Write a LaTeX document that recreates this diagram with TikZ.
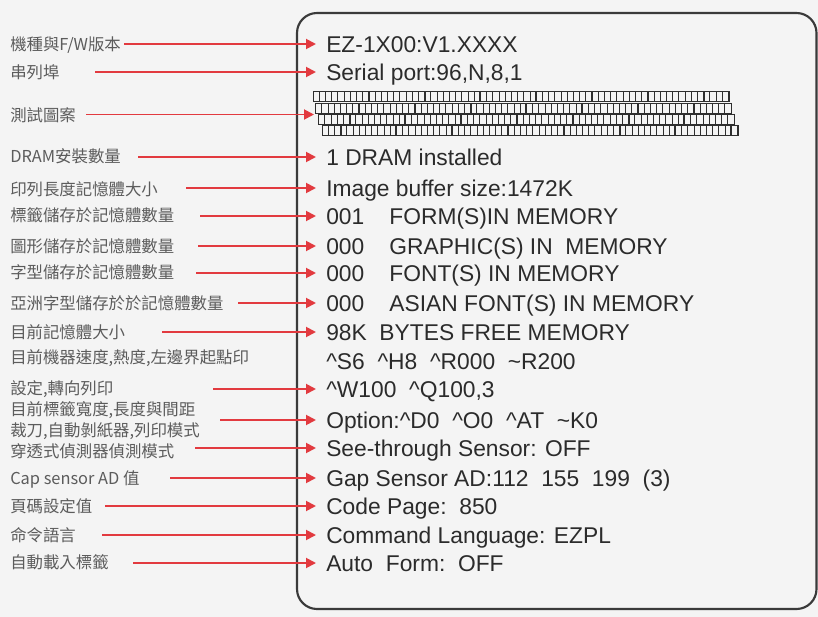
\documentclass[tikz,border=0pt]{standalone}
\usepackage{fontspec}
\setmainfont{Liberation Sans}
\newfontfamily\cjkfont{Noto Sans CJK TC}
\usetikzlibrary{arrows.meta}
\definecolor{Paper}{HTML}{F4F4F4}
\definecolor{Frame}{HTML}{3A3A3A}
\definecolor{Pointer}{HTML}{E23A3F}
\definecolor{Caption}{HTML}{5C5C5C}
\definecolor{Readout}{HTML}{2B2B2B}
\definecolor{Grid}{HTML}{2E2E2E}
\newcommand\crt{\textasciicircum}
\newcommand\tld{\textasciitilde}
\tikzset{
  >={Triangle[length=7.5pt,width=7.5pt]},
  lab/.style={anchor=west,inner sep=0pt,text=Caption,font=\cjkfont\fontsize{12.3}{14}\selectfont,text height=10.8pt,text depth=1.5pt},
  val/.style={anchor=west,inner xsep=7.5pt,inner ysep=0pt,text=Readout,font=\fontsize{17.1}{20}\selectfont,text height=12.2pt,text depth=0pt},
  ptr/.style={->,line width=1.4pt,draw=Pointer},
  panel/.style={draw=Frame,line width=1.6pt,rounded corners=15pt},
  cell/.style={draw=Grid,line width=0.6pt},
  cellbar/.style={draw=Grid,line width=1.5pt}
}

\begin{document}
\begin{tikzpicture}[x=0.75pt,y=-0.75pt]
  \fill[Paper] (0,0) rectangle (818,617);
  \useasboundingbox (0,0) rectangle (818,617);
  \draw[panel] (297,13) rectangle (816.5,609);

  \foreach \r/\xo/\yo in {0/313/91.5,1/315.5/103,2/318.5/114,3/322/125}{
    \draw[cell] (\xo,\yo) rectangle ++(416,10);
    \foreach \i in {1,...,67}{
      \pgfmathtruncatemacro\k{mod(\i*7+\r*5,9)}
      \ifnum\k=0 \draw[cellbar] (\xo+\i*6.2,\yo) -- ++(0,10);
      \else \draw[cell] (\xo+\i*6.2,\yo) -- ++(0,10); \fi
    }
  }

  \node[lab] (l1) at (10,44) {機種與F/W版本};       \node[val] (v1) at (316,44) {EZ-1X00:V1.XXXX};
  \node[lab] (l2) at (10,72) {串列埠};             \node[val] (v2) at (316,72) {Serial port:96,N,8,1};
  \node[lab] (l3) at (10,115) {測試圖案};           \coordinate (pat) at (314,114.5);
  \node[lab] (l4) at (10,156) {DRAM安裝數量};       \node[val] (v4) at (316,157) {1 DRAM installed};
  \node[lab] (l5) at (10,189) {印列長度記憶體大小};   \node[val] (v5) at (316,188) {Image buffer size:1472K};
  \node[lab] (l6) at (10,215) {標籤儲存於記憶體數量}; \node[val] (v6) at (316,216) {001\hspace{1.1em}FORM(S)IN MEMORY};
  \node[lab] (l7) at (10,246) {圖形儲存於記憶體數量}; \node[val] (v7) at (316,246) {000\hspace{1.1em}GRAPHIC(S) IN\ \ MEMORY};
  \node[lab] (l8) at (10,272) {字型儲存於記憶體數量}; \node[val] (v8) at (316,273) {000\hspace{1.1em}FONT(S) IN MEMORY};
  \node[lab] (l9) at (10,303) {亞洲字型儲存於於記憶體數量}; \node[val] (v9) at (316,303) {000\hspace{1.1em}ASIAN FONT(S) IN MEMORY};
  \node[lab] (l10) at (10,332) {目前記憶體大小};     \node[val] (v10) at (316,332) {98K\ \ BYTES FREE MEMORY};
  \node[lab] (l11) at (10,357) {目前機器速度,熱度,左邊界起點印};
  \node[val] (v11) at (316,361) {\crt S6\ \ \crt H8\ \ \crt R000\ \ \tld R200};
  \node[lab] (l12) at (10,388) {設定,轉向列印};      \node[val] (v12) at (316,389) {\crt W100\ \ \crt Q100,3};
  \node[lab] (l13) at (10,409) {目前標籤寬度,長度與間距};
  \node[lab] (l14) at (10,430) {裁刀,自動剝紙器,列印模式};
  \node[val] (v13) at (316,420) {Option:\crt D0\ \ \crt O0\ \ \crt AT\ \ \tld K0};
  \node[lab] (l15) at (10,451) {穿透式偵測器偵測模式}; \node[val] (v15) at (316,448) {See-through Sensor: OFF};
  \node[lab] (l16) at (10,478) {Cap sensor AD 值};  \node[val] (v16) at (316,478) {Gap Sensor AD:112\ \ 155\ \ 199\ \ (3)};
  \node[lab] (l17) at (10,506) {頁碼設定值};         \node[val] (v17) at (316,506) {Code Page:\ \ 850};
  \node[lab] (l18) at (10,535) {命令語言};           \node[val] (v18) at (316,535) {Command Language: EZPL};
  \node[lab] (l19) at (10,562) {自動載入標籤};       \node[val] (v19) at (316,563) {Auto\ \ Form:\ \ OFF};

  \coordinate (a1) at (124,44);  \coordinate (a2) at (95,72);   \coordinate (a3) at (86,114.5);
  \coordinate (a4) at (138,157); \coordinate (a5) at (186,188); \coordinate (a6) at (200,216);
  \coordinate (a7) at (198,246); \coordinate (a8) at (196,273); \coordinate (a9) at (238,303);
  \coordinate (a10) at (162,332); \coordinate (a12) at (213,389); \coordinate (a13) at (220,420);
  \coordinate (a15) at (195,448); \coordinate (a16) at (170,478); \coordinate (a17) at (105,506);
  \coordinate (a18) at (102,535); \coordinate (a19) at (133,563);

  \draw[ptr] (a1)--(v1.west);   \draw[ptr] (a2)--(v2.west);   \draw[ptr] (a3)--(pat);
  \draw[ptr] (a4)--(v4.west);   \draw[ptr] (a5)--(v5.west);   \draw[ptr] (a6)--(v6.west);
  \draw[ptr] (a7)--(v7.west);   \draw[ptr] (a8)--(v8.west);   \draw[ptr] (a9)--(v9.west);
  \draw[ptr] (a10)--(v10.west); \draw[ptr] (a12)--(v12.west); \draw[ptr] (a13)--(v13.west);
  \draw[ptr] (a15)--(v15.west); \draw[ptr] (a16)--(v16.west); \draw[ptr] (a17)--(v17.west);
  \draw[ptr] (a18)--(v18.west); \draw[ptr] (a19)--(v19.west);
\end{tikzpicture}
\end{document}
